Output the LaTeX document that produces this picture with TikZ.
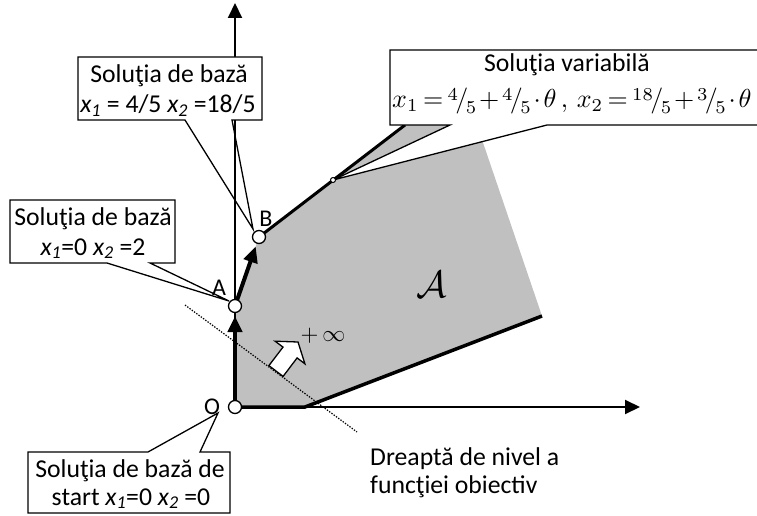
\documentclass[tikz,border=0pt]{standalone}
\usepackage{graphicx}
\usepackage{fontspec}
\setmainfont{Carlito}
\usetikzlibrary{arrows.meta}
\definecolor{regiongray}{RGB}{192,192,192}
\newcommand\myfr[2]{\mbox{\raisebox{.6ex}{$\scriptstyle #1$}\kern-.1em$/$\kern-.1em\raisebox{-.45ex}{$\scriptstyle #2$}}}
\begin{document}
\begin{tikzpicture}[x=1pt,y=-1pt,
  lbl/.style={font=\fontsize{25.7}{30}\selectfont, inner sep=0pt},
  callout/.style={draw, fill=white, line width=1.3pt, line join=miter},
  thickln/.style={line width=3.5pt},
  axisln/.style={line width=2pt, -{Triangle[length=15pt,width=14pt]}},
  movearrow/.style={line width=4pt, -{Triangle[length=16pt,width=14pt]}},
  ptcircle/.style={circle, draw, fill=white, line width=1.3pt, minimum size=13pt, inner sep=0pt},
  smallpt/.style={circle, draw, fill=white, line width=1pt, minimum size=5pt, inner sep=0pt},
]
\useasboundingbox (0,0) rectangle (757,516);
% key points
\coordinate (O) at (235,407);
\coordinate (A) at (235,306);
\coordinate (B) at (259,237);
\coordinate (V) at (333,180);
\coordinate (Vend) at (405,125);
\coordinate (X1) at (305,407);
\coordinate (X2) at (542,316);
\coordinate (G3) at (477,125);
\coordinate (Ytop) at (235,3);
\coordinate (Xend) at (640,407);
% region
\fill[regiongray] (O) -- (X1) -- (X2) -- (G3) -- (Vend) -- (B) -- (A) -- cycle;
% axes
\draw[axisln] (O) -- (Ytop);
\draw[axisln] (O) -- (Xend);
% level line
\coordinate (L1) at (185,305);
\coordinate (L2) at (357,432);
\draw[line width=1.2pt, dash pattern=on 1.4pt off 1.4pt] (L1) -- (L2);
% boundary lines
\draw[thickln] (O) -- (X1) -- (X2);
\draw[line width=3pt] (B) -- (Vend);
% callout B
\coordinate (Btip) at (253,229);
\draw[callout] (78,57) -- (262,57) -- (262,120) -- (232,120) -- (Btip) -- (185,120) -- (78,120) -- cycle;
\draw[line width=2pt] (235,121) -- (235,300);
\node[lbl, anchor=base] (cb1) at (169,83) {Soluţia de bază};
\node[lbl, anchor=base] (cb2) at (168,113) {\textit{x\textsubscript{1}} = 4/5 \textit{x\textsubscript{2}} =18/5};
% callout A
\coordinate (Atip) at (229,301);
\draw[callout] (10,200) -- (175,200) -- (175,263) -- (150,263) -- (Atip) -- (107,263) -- (10,263) -- cycle;
\node[lbl, anchor=base] (ca1) at (93,225) {Soluţia de bază};
\node[lbl, anchor=base] (ca2) at (93,255) {\textit{x\textsubscript{1}}=0 \textit{x\textsubscript{2}} =2};
% callout O
\coordinate (Otip) at (218,413);
\draw[callout] (28,452) -- (148,452) -- (Otip) -- (200,452) -- (230,452) -- (230,513) -- (28,513) -- cycle;
\node[lbl, anchor=base] (co1) at (130,477) {Soluţia de bază de};
\node[lbl, anchor=base] (co2) at (131,505) {start \textit{x\textsubscript{1}}=0 \textit{x\textsubscript{2}} =0};
% callout variable
\draw[callout] (390,50) -- (780,50) -- (780,125) -- (547,125) -- (V) -- (450,125) -- (390,125) -- cycle;
\node[lbl, anchor=base] (cv1) at (567,72) {Soluţia variabilă};
\node[anchor=base west, inner sep=0pt] (cv2) at (392,108)
  {\thickmuskip=3mu\medmuskip=2mu\scalebox{2.6}{$x_1=\myfr{4}{5}+\myfr{4}{5}\cdot\theta\,,\,x_2=\myfr{18}{5}+\myfr{3}{5}\cdot\theta$}};
% moves along edges
\draw[movearrow, shorten >=10pt] (O) -- (A);
\draw[movearrow, shorten <=5pt, shorten >=10pt] (A) -- (B);
% vertices
\node[ptcircle] (Oc) at (O) {};
\node[ptcircle] (Ac) at (A) {};
\node[ptcircle] (Bc) at (B) {};
\node[smallpt] (Vc) at (V) {};
\node[lbl, font=\fontsize{24}{28}\selectfont] (lA) at (219,288) {A};
\node[lbl, font=\fontsize{24}{28}\selectfont] (lB) at (266,219) {B};
\node[lbl, font=\fontsize{24}{28}\selectfont] (lO) at (212,407) {O};
% direction of growth
\draw[fill=white, line width=1.3pt, line join=miter]
  (268.9,365.6) -- (283.1,376.4) -- (297.1,357.9) -- (304.9,363.8) -- (298.0,342.0)
  -- (275.1,341.2) -- (283.0,347.1) -- cycle;
\node[inner sep=0pt] (inf) at (323,336) {\scalebox{2.3}{$+\,\infty$}};
\node[inner sep=0pt] (scrA) at (432,285) {\scalebox{3.8}{$\mathcal{A}$}};
% level line label
\node[lbl, anchor=base west] (d1) at (370,465) {Dreaptă de nivel a};
\node[lbl, anchor=base west] (d2) at (370,493) {funcţiei obiectiv};
\end{tikzpicture}
\end{document}
